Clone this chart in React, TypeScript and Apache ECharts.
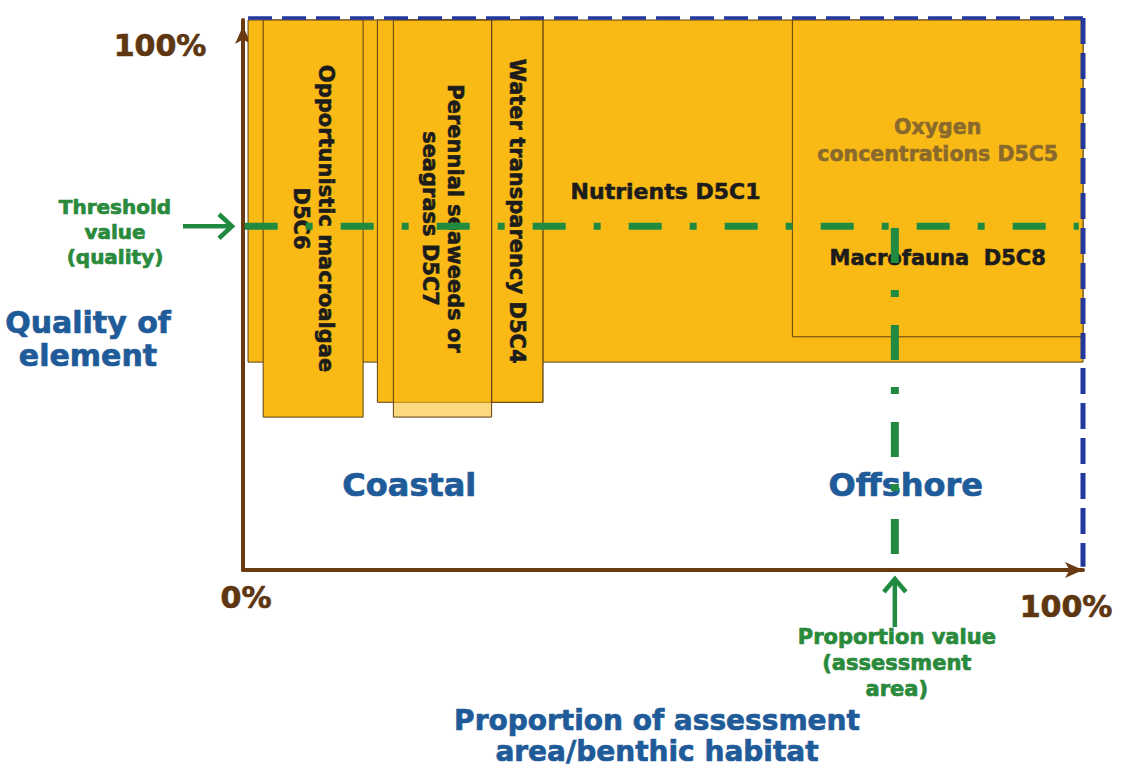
import React, { useEffect, useRef } from "react";
import * as echarts from "echarts";

// ---------------- data ----------------
const rectNames = [
  "Nutrients D5C1",
  "Oxygen concentrations D5C5",
  "Opportunistic macroalgae D5C6",
  "Coastal vegetation base",
  "Water transparency D5C4",
  "Perennial seaweeds or seagrass D5C7",
];
const rectXFrom = [0.6, 65.4, 2.4, 16.0, 29.6, 17.9];
const rectXTo = [100, 100, 14.3, 35.7, 35.7, 29.6];
const rectYFrom = [37.8, 42.4, 27.8, 30.5, 30.5, 27.8];
const rectYTo = [100, 100, 100, 100, 100, 100];
const rectLabels = [
  "Nutrients D5C1",
  "Oxygen\nconcentrations D5C5",
  "Opportunistic macroalgae\nD5C6",
  "",
  "Water transparency D5C4",
  "Perennial seaweeds or\nseagrass D5C7",
];
const rectSubLabels = ["", "Macrofauna  D5C8", "", "", "", ""];

const thresholdQuality = 62.5;
const proportionValue = 77.6;
const assessmentTop = 100.36;
const assessmentRight = 100;

const xTickValues = [0, 100];
const xTickLabels = ["0%", "100%"];
const yTickValues = [100];
const yTickLabels = ["100%"];

const habitatNames = ["Coastal", "Offshore"];
const habitatX = [19.8, 78.9];
const habitatY = 15.5;

const FONT = "DejaVu Sans";
const BROWN = "#6a3b12";
const GREEN = "#1f8a40";
const GREEN_TEXT = "#2a8a3c";
const BLUE_TEXT = "#1f5b99";
const BLUE_DASH = "#23389c";
const ORANGE = "#faba16";

export default function App() {
  const ref = useRef<HTMLDivElement>(null);

  useEffect(() => {
    if (!ref.current) return;
    const chart = echarts.init(ref.current, undefined, { renderer: "svg" });

    const rectData = rectNames.map((_, i) => [
      rectXFrom[i],
      rectXTo[i],
      rectYFrom[i],
      rectYTo[i],
      i,
    ]);

    const option: any = {
      animation: false,
      backgroundColor: "#ffffff",
      grid: { left: 243, top: 20, width: 840, height: 550 },
      xAxis: {
        type: "value",
        min: 0,
        max: 100,
        axisLine: {
          show: true,
          onZero: false,
          symbol: ["none", "arrow"],
          symbolSize: [12, 18],
          lineStyle: { color: BROWN, width: 4 },
        },
        axisTick: { show: false },
        axisLabel: { show: false },
        splitLine: { show: false },
      },
      yAxis: {
        type: "value",
        min: 0,
        max: 100,
        axisLine: {
          show: true,
          onZero: false,
          symbol: ["none", "arrow"],
          symbolSize: [12, 18],
          symbolOffset: [0, -6],
          lineStyle: { color: BROWN, width: 4 },
        },
        axisTick: { show: false },
        axisLabel: { show: false },
        splitLine: { show: false },
      },
      series: [
        {
          type: "custom",
          z: 2,
          clip: false,
          silent: true,
          data: rectData,
          renderItem: (params: any, api: any) => {
            const i = api.value(4);
            const tl = api.coord([api.value(0), api.value(3)]);
            const br = api.coord([api.value(1), api.value(2)]);
            const w = br[0] - tl[0];
            const h = br[1] - tl[1];
            const name = rectNames[i];
            const vertical = /D5C[467]/.test(name);
            const translucent = name.indexOf("D5C7") >= 0;
            const isOxygen = name.indexOf("D5C5") >= 0;
            const children: any[] = [
              {
                type: "rect",
                shape: { x: tl[0], y: tl[1], width: w, height: h },
                style: {
                  fill: translucent ? "rgba(250,186,22,0.55)" : ORANGE,
                  stroke: "#5e3d10",
                  lineWidth: 1,
                },
              },
            ];
            const label = rectLabels[i];
            if (label) {
              const col = isOxygen ? "#8a6a2c" : "#1c1c1c";
              children.push({
                type: "text",
                x: tl[0] + w / 2,
                y: isOxygen ? tl[1] + h * 0.38 : tl[1] + h / 2,
                rotation: vertical ? -Math.PI / 2 : 0,
                style: {
                  text: label,
                  x: 0,
                  y: 0,
                  fill: col,
                  stroke: col,
                  lineWidth: 0.6,
                  fontFamily: FONT,
                  fontWeight: "bold",
                  fontSize: vertical ? 21 : isOxygen ? 20.5 : 22,
                  lineHeight: vertical ? 25 : 27,
                  align: "center",
                  verticalAlign: "middle",
                },
              });
            }
            const sub = rectSubLabels[i];
            if (sub) {
              children.push({
                type: "text",
                x: tl[0] + w / 2,
                y: tl[1] + h * 0.75,
                style: {
                  text: sub,
                  x: 0,
                  y: 0,
                  fill: "#1c1c1c",
                  stroke: "#1c1c1c",
                  lineWidth: 0.6,
                  fontFamily: FONT,
                  fontWeight: "bold",
                  fontSize: 21,
                  align: "center",
                  verticalAlign: "middle",
                },
              });
            }
            return { type: "group", children };
          },
        },
        {
          type: "line",
          name: "Threshold value (quality)",
          z: 10,
          clip: false,
          silent: true,
          symbol: "none",
          data: [
            [0.2, thresholdQuality],
            [99.5, thresholdQuality],
          ],
          lineStyle: { color: GREEN, width: 7, type: [33, 28, 7, 28], cap: "butt" },
        },
        {
          type: "line",
          name: "Proportion value (assessment area)",
          z: 10,
          clip: false,
          silent: true,
          symbol: "none",
          data: [
            [proportionValue, thresholdQuality - 0.3],
            [proportionValue, 0],
          ],
          lineStyle: { color: GREEN, width: 8, type: [35, 27, 7, 28], cap: "butt" },
        },
        {
          type: "line",
          name: "Assessment area top",
          z: 9,
          clip: false,
          silent: true,
          symbol: "none",
          data: [
            [0.6, assessmentTop],
            [assessmentRight, assessmentTop],
          ],
          lineStyle: { color: BLUE_DASH, width: 3.5, type: [24, 10], cap: "butt" },
        },
        {
          type: "line",
          name: "Assessment area right",
          z: 9,
          clip: false,
          silent: true,
          symbol: "none",
          data: [
            [assessmentRight, assessmentTop],
            [assessmentRight, 0.6],
          ],
          lineStyle: { color: BLUE_DASH, width: 5, type: [26, 9], cap: "butt" },
        },
      ],
    };

    chart.setOption(option);

    const px = (x: number, y: number) =>
      chart.convertToPixel({ gridIndex: 0 } as any, [x, y]) as number[];

    const txt = (
      text: string,
      x: number,
      y: number,
      fill: string,
      fontSize: number,
      lineHeight?: number
    ) => ({
      type: "text",
      z: 5,
      silent: true,
      style: {
        text,
        x,
        y,
        fill,
        stroke: fill,
        lineWidth: 0.7,
        fontFamily: FONT,
        fontWeight: "bold",
        fontSize,
        lineHeight: lineHeight || fontSize * 1.2,
        align: "center",
        verticalAlign: "middle",
        textAlign: "center",
        textVerticalAlign: "middle",
      },
    });

    const graphics: any[] = [];

    // tick labels
    const x0 = px(xTickValues[0], 0);
    graphics.push(txt(xTickLabels[0], x0[0] + 3, x0[1] + 27, "#5e3712", 30));
    const x1 = px(xTickValues[1], 0);
    graphics.push(txt(xTickLabels[1], x1[0] - 17, x1[1] + 36, "#5e3712", 30));
    const y1 = px(0, yTickValues[0]);
    graphics.push(txt(yTickLabels[0], y1[0] - 83, y1[1] + 25, "#5e3712", 30));

    // threshold annotation
    const tp = px(0, thresholdQuality);
    graphics.push(
      txt("Threshold\nvalue\n(quality)", tp[0] - 128, tp[1] + 6, GREEN_TEXT, 20, 25)
    );
    graphics.push({
      type: "polyline",
      z: 5,
      silent: true,
      shape: { points: [[tp[0] - 60, tp[1]], [tp[0] - 12, tp[1]]] },
      style: { stroke: GREEN, lineWidth: 4.5, fill: null },
    });
    graphics.push({
      type: "polyline",
      z: 5,
      silent: true,
      shape: {
        points: [
          [tp[0] - 24, tp[1] - 12],
          [tp[0] - 11, tp[1]],
          [tp[0] - 24, tp[1] + 12],
        ],
      },
      style: { stroke: GREEN, lineWidth: 4.5, fill: null },
    });

    // proportion annotation
    const pp = px(proportionValue, 0);
    graphics.push({
      type: "polyline",
      z: 5,
      silent: true,
      shape: { points: [[pp[0], pp[1] + 57], [pp[0], pp[1] + 9]] },
      style: { stroke: GREEN, lineWidth: 4.5, fill: null },
    });
    graphics.push({
      type: "polyline",
      z: 5,
      silent: true,
      shape: {
        points: [
          [pp[0] - 11, pp[1] + 22],
          [pp[0], pp[1] + 9],
          [pp[0] + 11, pp[1] + 22],
        ],
      },
      style: { stroke: GREEN, lineWidth: 4.5, fill: null },
    });
    graphics.push(
      txt("Proportion value\n(assessment\narea)", pp[0] + 2, pp[1] + 93, GREEN_TEXT, 21, 26)
    );

    // habitat labels
    habitatNames.forEach((n, i) => {
      const p = px(habitatX[i], habitatY);
      graphics.push(txt(n, p[0], p[1], BLUE_TEXT, 32));
    });

    // axis titles
    graphics.push(txt("Quality of\nelement", 88, 339, BLUE_TEXT, 30, 33));
    graphics.push(
      txt("Proportion of assessment\narea/benthic habitat", 657, 736, BLUE_TEXT, 28, 31)
    );

    chart.setOption({ graphic: { elements: graphics } });

    return () => chart.dispose();
  }, []);

  return (
    <div
      ref={ref}
      style={{ position: "absolute", left: 0, top: 0, width: 1121, height: 769 }}
    />
  );
}
